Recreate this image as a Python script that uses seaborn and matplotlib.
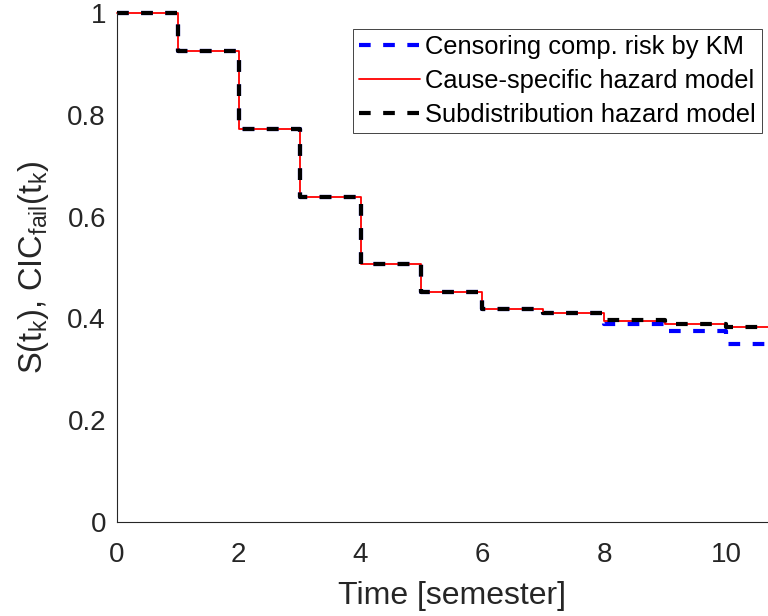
import matplotlib
matplotlib.use("Agg")
import matplotlib.pyplot as plt
import numpy as np
import pandas as pd
import seaborn as sns

# Semester index and the estimated curves at each step
semesters = [0, 1, 2, 3, 4, 5, 6, 7, 8, 9, 10, 11]
km_censoring = [1.0, 0.925, 0.773, 0.638, 0.507, 0.452, 0.418, 0.411, 0.389, 0.376, 0.349, 0.349]
cause_specific = [1.0, 0.925, 0.773, 0.638, 0.507, 0.452, 0.418, 0.411, 0.395, 0.389, 0.383, 0.383]
subdistribution = [1.0, 0.925, 0.773, 0.638, 0.507, 0.452, 0.418, 0.411, 0.396, 0.389, 0.384, 0.384]

series_labels = ["Censoring comp. risk by KM",
                 "Cause-specific hazard model",
                 "Subdistribution hazard model"]
x_ticks = [0, 2, 4, 6, 8, 10]
y_ticks = [0, 0.2, 0.4, 0.6, 0.8, 1.0]
y_tick_labels = ["0", "0.2", "0.4", "0.6", "0.8", "1"]

df = pd.DataFrame({
    "t": semesters,
    "km": km_censoring,
    "cs": cause_specific,
    "sd": subdistribution,
})

sns.set_style("white")
plt.rcParams["font.family"] = ["Liberation Sans", "DejaVu Sans"]
plt.rcParams["mathtext.fontset"] = "custom"
plt.rcParams["mathtext.rm"] = "Liberation Sans"
plt.rcParams["mathtext.it"] = "Liberation Sans"

axis_color = "#262626"

fig = plt.figure(figsize=(7.68, 6.16), dpi=100)
px_per_unit = 60.9
ax = fig.add_axes([117 / 768, 1 - 522 / 616, 11 * px_per_unit / 768, 509 / 616])

sns.lineplot(data=df, x="t", y="km", ax=ax, color="#0000ff", linewidth=3.0,
             linestyle=(0, (2.8, 3.0)), drawstyle="steps-post",
             label=series_labels[0], clip_on=False, errorbar=None)
sns.lineplot(data=df, x="t", y="cs", ax=ax, color="#ff0000", linewidth=1.3,
             linestyle="-", drawstyle="steps-post",
             label=series_labels[1], clip_on=False, errorbar=None)
sns.lineplot(data=df, x="t", y="sd", ax=ax, color="#000000", linewidth=3.0,
             linestyle=(0, (2.8, 3.0)), drawstyle="steps-post",
             label=series_labels[2], clip_on=False, errorbar=None)

ax.set_xlim(0, 11)
ax.set_ylim(0, 1)
ax.set_xticks(x_ticks)
ax.set_xticklabels([str(v) for v in x_ticks])
ax.set_yticks(y_ticks)
ax.set_yticklabels(y_tick_labels)

for side in ("top", "right"):
    ax.spines[side].set_visible(False)
for side in ("left", "bottom"):
    ax.spines[side].set_color(axis_color)
    ax.spines[side].set_linewidth(0.8)

ax.tick_params(axis="both", direction="in", length=4.3, width=0.8,
               colors=axis_color, labelsize=20, labelcolor=axis_color)
ax.tick_params(axis="x", pad=14.5)
ax.tick_params(axis="y", pad=8)

ax.set_xlabel("Time [semester]", fontsize=23, color=axis_color, labelpad=9)
ax.set_ylabel(r"S(t$_\mathregular{k}$), CIC$_\mathregular{fail}$(t$_\mathregular{k}$)",
              fontsize=23.5, color=axis_color, labelpad=12)

leg = ax.legend(loc="upper left", bbox_to_anchor=(353 / 768, 1 - 29 / 616),
                bbox_transform=fig.transFigure, fontsize=18.4, frameon=True,
                fancybox=False, framealpha=1, borderaxespad=0,
                borderpad=0.22, handlelength=2.39, handletextpad=0.22,
                labelspacing=0.4)
leg.get_frame().set_edgecolor(axis_color)
leg.get_frame().set_linewidth(0.6)
for txt in leg.get_texts():
    txt.set_color("#000000")

fig.savefig("out.png", dpi=100)
